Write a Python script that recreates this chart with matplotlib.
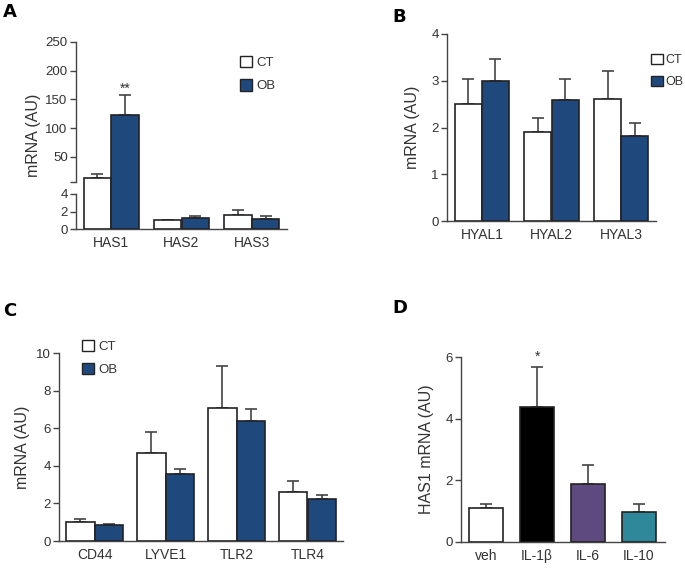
import numpy as np
import matplotlib
matplotlib.use("Agg")
import matplotlib.pyplot as plt
from matplotlib.patches import Patch

plt.rcParams['font.family'] = ['Liberation Sans', 'DejaVu Sans']

# ---- data ----
has_genes = ['HAS1', 'HAS2', 'HAS3']
has_ct = [13.5, 1.0, 1.64]
has_ct_err = [7.0, 0.08, 0.56]
has_ob = [123.0, 1.3, 1.2]
has_ob_err = [34.0, 0.22, 0.23]

hyal_genes = ['HYAL1', 'HYAL2', 'HYAL3']
hyal_ct = [2.51, 1.90, 2.61]
hyal_ct_err = [0.52, 0.31, 0.59]
hyal_ob = [2.99, 2.58, 1.81]
hyal_ob_err = [0.47, 0.45, 0.28]

rec_genes = ['CD44', 'LYVE1', 'TLR2', 'TLR4']
rec_ct = [1.01, 4.69, 7.08, 2.59]
rec_ct_err = [0.16, 1.11, 2.25, 0.58]
rec_ob = [0.85, 3.56, 6.36, 2.25]
rec_ob_err = [0.05, 0.26, 0.67, 0.21]

treat = ['veh', 'IL-1β', 'IL-6', 'IL-10']
treat_val = [1.09, 4.37, 1.89, 0.96]
treat_err = [0.14, 1.32, 0.60, 0.27]

CT_COL = 'white'
OB_COL = '#1f497d'
D_COLS = ['white', 'black', '#5e4a7e', '#2f879a']
EDGE = '#222222'
AXC = '#444444'
TXT = '#333333'

W, H = 685, 569
fig = plt.figure(figsize=(W / 100, H / 100), dpi=100)


def box(l, r, b, t):
    return [l / W, (H - b) / H, (r - l) / W, (b - t) / H]


def style(ax):
    for s in ['top', 'right']:
        ax.spines[s].set_visible(False)
    for s in ['left', 'bottom']:
        ax.spines[s].set_color(AXC)
        ax.spines[s].set_linewidth(1.0)
    ax.tick_params(axis='y', direction='out', length=4, width=1, color=AXC,
                   labelsize=9.5, labelcolor=TXT, pad=2)
    ax.tick_params(axis='x', length=0, labelsize=10, labelcolor=TXT, pad=5)


def grouped(ax, names, ct, cte, ob, obe, w=0.39):
    x = np.arange(len(names))
    ax.bar(x - w / 2, ct, w, color=CT_COL, edgecolor=EDGE, linewidth=1.2, zorder=3)
    ax.bar(x + w / 2, ob, w, color=OB_COL, edgecolor=EDGE, linewidth=1.2, zorder=3)
    ax.errorbar(x - w / 2, ct, yerr=[np.zeros(len(ct)), cte], fmt='none',
                ecolor=AXC, elinewidth=1.2, capsize=4.5, capthick=1.2, zorder=2)
    ax.errorbar(x + w / 2, ob, yerr=[np.zeros(len(ob)), obe], fmt='none',
                ecolor=AXC, elinewidth=1.2, capsize=4.5, capthick=1.2, zorder=2)
    ax.set_xticks(x)
    ax.set_xticklabels(names)
    ax.set_xlim(-0.5, len(names) - 0.5)


def legend(ax, anchor, pad=0.35, fs=9.5):
    h = [Patch(facecolor=CT_COL, edgecolor=EDGE, linewidth=1.0, label='CT'),
         Patch(facecolor=OB_COL, edgecolor=EDGE, linewidth=1.0, label='OB')]
    ax.legend(handles=h, loc='upper left', bbox_to_anchor=anchor, frameon=False,
              fontsize=fs, handlelength=0.95, handleheight=0.95,
              handletextpad=pad, labelspacing=0.75, borderpad=0,
              borderaxespad=0, labelcolor=TXT)


# ---- A: broken axis done with a piecewise scale ----
bv = [-1000, 0, 4, 6.5, 250, 10000]
bp = [-8750, 0, 35, 47, 187, 187 + 9750 * 0.575]


def fwd(v):
    return np.interp(v, bv, bp)


def inv(p):
    return np.interp(p, bp, bv)


axA = fig.add_axes(box(76, 287, 229, 42))
axA.set_yscale('function', functions=(fwd, inv))
grouped(axA, has_genes, has_ct, has_ct_err, has_ob, has_ob_err)
axA.set_ylim(0, 250)
style(axA)
axA.spines['left'].set_visible(False)
tr = axA.get_yaxis_transform()
axA.plot([0, 0], [0, 4], color=AXC, lw=1.0, transform=tr, clip_on=False)
axA.plot([0, 0], [6.5, 250], color=AXC, lw=1.0, transform=tr, clip_on=False)
axA.set_yticks([0, 2, 4, 6.5, 50, 100, 150, 200, 250])
axA.set_yticklabels(['0', '2', '4', '', '50', '100', '150', '200', '250'])
axA.yaxis.set_minor_locator(matplotlib.ticker.NullLocator())
axA.set_ylabel('mRNA (AU)', fontsize=11.5, color=TXT, labelpad=3)
axA.annotate('**', (0.195, has_ob[0] + has_ob_err[0]), xytext=(0, 0),
             textcoords='offset points', ha='center', va='bottom',
             fontsize=10, color=TXT)
legend(axA, (0.775, 0.925))

# ---- B ----
axB = fig.add_axes(box(447, 656, 221, 34))
grouped(axB, hyal_genes, hyal_ct, hyal_ct_err, hyal_ob, hyal_ob_err)
axB.set_ylim(0, 4)
axB.set_yticks([0, 1, 2, 3, 4])
style(axB)
axB.set_ylabel('mRNA (AU)', fontsize=11.5, color=TXT, labelpad=8)
legend(axB, (0.975, 0.895), pad=0.2, fs=9)

# ---- C ----
axC = fig.add_axes(box(59, 343, 541, 353))
grouped(axC, rec_genes, rec_ct, rec_ct_err, rec_ob, rec_ob_err, w=0.40)
axC.set_ylim(0, 10)
axC.set_yticks([0, 2, 4, 6, 8, 10])
style(axC)
axC.set_ylabel('mRNA (AU)', fontsize=11.5, color=TXT, labelpad=4)
legend(axC, (0.08, 1.07))

# ---- D ----
axD = fig.add_axes(box(461, 665, 542, 357))
xd = np.arange(len(treat))
axD.bar(xd, treat_val, 0.67, color=D_COLS, edgecolor=EDGE, linewidth=1.2, zorder=3)
axD.errorbar(xd, treat_val, yerr=[np.zeros(len(treat)), treat_err], fmt='none',
             ecolor=AXC, elinewidth=1.2, capsize=4.5, capthick=1.2, zorder=2)
axD.set_xticks(xd)
axD.set_xticklabels(treat)
axD.set_xlim(-0.5, 3.52)
axD.set_ylim(0, 6)
axD.set_yticks([0, 2, 4, 6])
style(axD)
axD.set_ylabel('HAS1 mRNA (AU)', fontsize=11.5, color=TXT, labelpad=8)
axD.annotate('*', (1, treat_val[1] + treat_err[1]), xytext=(0, 2),
             textcoords='offset points', ha='center', va='bottom',
             fontsize=10, color=TXT)

# panel letters
for lab, x, y in [('A', 3, 3), ('B', 392, 8), ('C', 3, 302), ('D', 392, 299)]:
    fig.text(x / W, 1 - y / H, lab, fontsize=13, fontweight='bold',
             ha='left', va='top', family=['DejaVu Sans'])

fig.savefig('out.png', dpi=100)
